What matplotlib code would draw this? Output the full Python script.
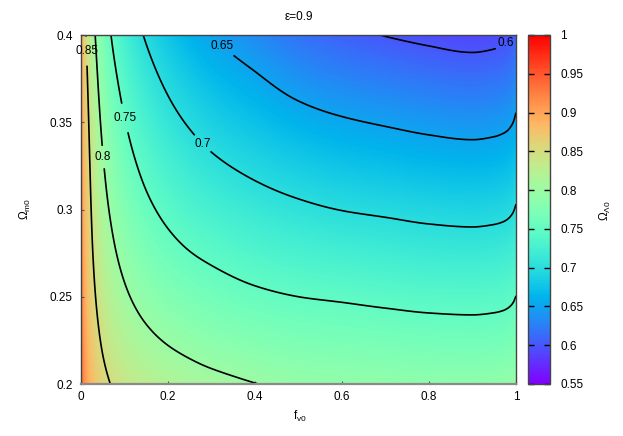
import numpy as np
import matplotlib
matplotlib.use("Agg")
import matplotlib.pyplot as plt

plt.rcParams['font.family'] = ['Liberation Sans', 'DejaVu Sans']
plt.rcParams['mathtext.fontset'] = 'custom'
plt.rcParams['mathtext.rm'] = 'Liberation Sans'
plt.rcParams['mathtext.it'] = 'Liberation Sans'
plt.rcParams['mathtext.default'] = 'regular'

# ---- data (Omega_Lambda0 on an f_v0 x Omega_m0 grid) ----
f_v0 = [0, 0.005, 0.01, 0.02, 0.03, 0.04, 0.05, 0.06, 0.08, 0.1, 0.125, 0.15,
        0.2, 0.25, 0.3, 0.4, 0.5, 0.6, 0.7, 0.8, 0.9, 0.95, 0.97, 0.98, 0.99, 0.995, 1.0]
omega_m0 = [0.2, 0.225, 0.25, 0.275, 0.3, 0.325, 0.35, 0.375, 0.4]

row_om_0200 = [0.9400, 0.9223, 0.9090, 0.8898, 0.8764, 0.8666, 0.8593, 0.8536, 0.8448, 0.8384, 0.8321, 0.8270, 0.8191, 0.8130, 0.8083, 0.8005, 0.7945, 0.7920, 0.7905, 0.7890, 0.7890, 0.7899, 0.7909, 0.7918, 0.7934, 0.7948, 0.7971]
row_om_0225 = [0.9350, 0.9144, 0.8992, 0.8781, 0.8642, 0.8539, 0.8456, 0.8389, 0.8285, 0.8207, 0.8130, 0.8069, 0.7976, 0.7908, 0.7851, 0.7780, 0.7723, 0.7700, 0.7677, 0.7650, 0.7640, 0.7651, 0.7662, 0.7672, 0.7690, 0.7706, 0.7733]
row_om_0250 = [0.9300, 0.9079, 0.8917, 0.8693, 0.8543, 0.8428, 0.8335, 0.8259, 0.8140, 0.8049, 0.7959, 0.7887, 0.7779, 0.7702, 0.7645, 0.7554, 0.7500, 0.7470, 0.7437, 0.7410, 0.7400, 0.7412, 0.7424, 0.7436, 0.7457, 0.7475, 0.7505]
row_om_0275 = [0.9250, 0.9023, 0.8858, 0.8624, 0.8458, 0.8330, 0.8227, 0.8142, 0.8008, 0.7905, 0.7803, 0.7720, 0.7597, 0.7508, 0.7444, 0.7343, 0.7277, 0.7230, 0.7197, 0.7160, 0.7150, 0.7163, 0.7177, 0.7190, 0.7213, 0.7233, 0.7267]
row_om_0300 = [0.9200, 0.8973, 0.8808, 0.8566, 0.8383, 0.8240, 0.8126, 0.8033, 0.7886, 0.7772, 0.7657, 0.7565, 0.7426, 0.7325, 0.7251, 0.7136, 0.7054, 0.6994, 0.6957, 0.6920, 0.6900, 0.6915, 0.6930, 0.6944, 0.6970, 0.6992, 0.7029]
row_om_0325 = [0.9150, 0.8924, 0.8760, 0.8510, 0.8310, 0.8153, 0.8030, 0.7929, 0.7768, 0.7643, 0.7518, 0.7416, 0.7261, 0.7147, 0.7059, 0.6931, 0.6832, 0.6760, 0.6717, 0.6670, 0.6650, 0.6666, 0.6683, 0.6698, 0.6726, 0.6750, 0.6791]
row_om_0350 = [0.9100, 0.8872, 0.8706, 0.8447, 0.8234, 0.8066, 0.7933, 0.7824, 0.7651, 0.7515, 0.7380, 0.7270, 0.7099, 0.6972, 0.6872, 0.6731, 0.6609, 0.6531, 0.6477, 0.6430, 0.6400, 0.6418, 0.6436, 0.6452, 0.6483, 0.6509, 0.6553]
row_om_0375 = [0.9050, 0.8813, 0.8639, 0.8368, 0.8149, 0.7974, 0.7833, 0.7715, 0.7528, 0.7384, 0.7240, 0.7122, 0.6936, 0.6796, 0.6686, 0.6533, 0.6386, 0.6290, 0.6237, 0.6180, 0.6150, 0.6169, 0.6189, 0.6207, 0.6239, 0.6268, 0.6315]
row_om_0400 = [0.9000, 0.8742, 0.8552, 0.8266, 0.8049, 0.7873, 0.7724, 0.7596, 0.7397, 0.7245, 0.7092, 0.6967, 0.6767, 0.6615, 0.6498, 0.6330, 0.6170, 0.6070, 0.5992, 0.5940, 0.5900, 0.5920, 0.5941, 0.5961, 0.5996, 0.6026, 0.6077]

contour_levels = [0.6, 0.65, 0.7, 0.75, 0.8, 0.85]
x_ticks = [0, 0.2, 0.4, 0.6, 0.8, 1.0]
x_ticklabels = ['0', '0.2', '0.4', '0.6', '0.8', '1']
y_ticks = [0.2, 0.25, 0.3, 0.35, 0.4]
y_ticklabels = ['0.2', '0.25', '0.3', '0.35', '0.4']
cb_ticks = [0.55, 0.6, 0.65, 0.7, 0.75, 0.8, 0.85, 0.9, 0.95, 1.0]
cb_ticklabels = ['0.55', '0.6', '0.65', '0.7', '0.75', '0.8', '0.85', '0.9', '0.95', '1']
# ---------------------------------------------------------------------------------

f_cols = np.array(f_v0)
om_rows = np.array(omega_m0)
Z = np.array([row_om_0200, row_om_0225, row_om_0250, row_om_0275, row_om_0300,
              row_om_0325, row_om_0350, row_om_0375, row_om_0400])


def pchip(x, y, xq):
    """Shape-preserving piecewise cubic used only to render the gridded field smoothly."""
    x = np.asarray(x, float); y = np.asarray(y, float)
    h = np.diff(x); d = np.diff(y) / h
    n = len(x)
    m = np.zeros(n)
    for k in range(1, n - 1):
        if d[k-1] * d[k] > 0:
            w1 = 2 * h[k] + h[k-1]; w2 = h[k] + 2 * h[k-1]
            m[k] = (w1 + w2) / (w1 / d[k-1] + w2 / d[k])
    m[0] = d[0]; m[-1] = d[-1]
    idx = np.clip(np.searchsorted(x, xq) - 1, 0, n - 2)
    t = (xq - x[idx]) / h[idx]
    h00 = 2*t**3 - 3*t**2 + 1; h10 = t**3 - 2*t**2 + t; h01 = -2*t**3 + 3*t**2; h11 = t**3 - t**2
    return h00*y[idx] + h10*h[idx]*m[idx] + h01*y[idx+1] + h11*h[idx]*m[idx+1]


nf, no = 700, 400
f_fine = np.linspace(0, 1, nf)
om_fine = np.linspace(0.2, 0.4, no)
R = np.array([pchip(np.log(f_cols + 0.011), Z[i], np.log(f_fine + 0.011)) for i in range(len(om_rows))])
F = np.array([pchip(om_rows, R[:, j], om_fine) for j in range(nf)]).T

W, H = 623, 436
fig = plt.figure(figsize=(W/100, H/100), dpi=100)
ax = fig.add_axes([81/W, 1-384/H, 435/W, 349/H])
cax = fig.add_axes([528/W, 1-384/H, 22/W, 349/H])

df = 1.0 / (nf - 1); do = 0.2 / (no - 1)
im = ax.imshow(F, origin='lower', extent=[-df/2, 1+df/2, 0.2-do/2, 0.4+do/2], aspect='auto',
               cmap='rainbow', vmin=0.55, vmax=1.0, interpolation='bilinear')
cs = ax.contour(f_fine, om_fine, F, levels=contour_levels, colors='k', linewidths=1.2)
lab_pos = [(0.0138, 0.3908), (0.0494, 0.330), (0.0996, 0.3524), (0.278, 0.3375), (0.3207, 0.3925), (0.977, 0.3951)]
texts = ax.clabel(cs, fmt='%g', manual=lab_pos, inline=True, fontsize=8.5, inline_spacing=3)
for t in texts:
    t.set_rotation(0)
    t.set_clip_on(False)

ax.set_xlim(0, 1); ax.set_ylim(0.2, 0.4)
ax.set_xticks(x_ticks); ax.set_xticklabels(x_ticklabels)
ax.set_yticks(y_ticks); ax.set_yticklabels(y_ticklabels)
ax.tick_params(direction='in', length=2.5, width=0.8, color='#555555', labelsize=8.5)
ax.tick_params(axis='x', pad=5)
ax.tick_params(axis='y', pad=6)
for s in ax.spines.values():
    s.set_color('#444444'); s.set_linewidth(1.0)
ax.spines['bottom'].set_color('#8a8a8a'); ax.spines['bottom'].set_linewidth(1.6)

cb = fig.colorbar(im, cax=cax)
cb.set_ticks(cb_ticks)
cb.set_ticklabels(cb_ticklabels)
cax.tick_params(direction='in', length=4, width=1, color='black', left=True, right=True, labelsize=8.5, pad=7.5)
cb.outline.set_edgecolor('#444444'); cb.outline.set_linewidth(1.0)

fig.text(298.5/W, 1-17.5/H, 'ε=0.9', ha='center', va='center', fontsize=8.5)
fig.text(300/W, 1-416/H, r'f$_{v0}$', ha='center', va='center', fontsize=8.5)
fig.text(25.5/W, 1-209/H, r'Ω$_{m0}$', ha='center', va='center', fontsize=8.5, rotation=90)
fig.text(605/W, 1-211/H, r'Ω$_{Λ0}$', ha='center', va='center', fontsize=8.5, rotation=90)

fig.savefig('out.png', dpi=100)
